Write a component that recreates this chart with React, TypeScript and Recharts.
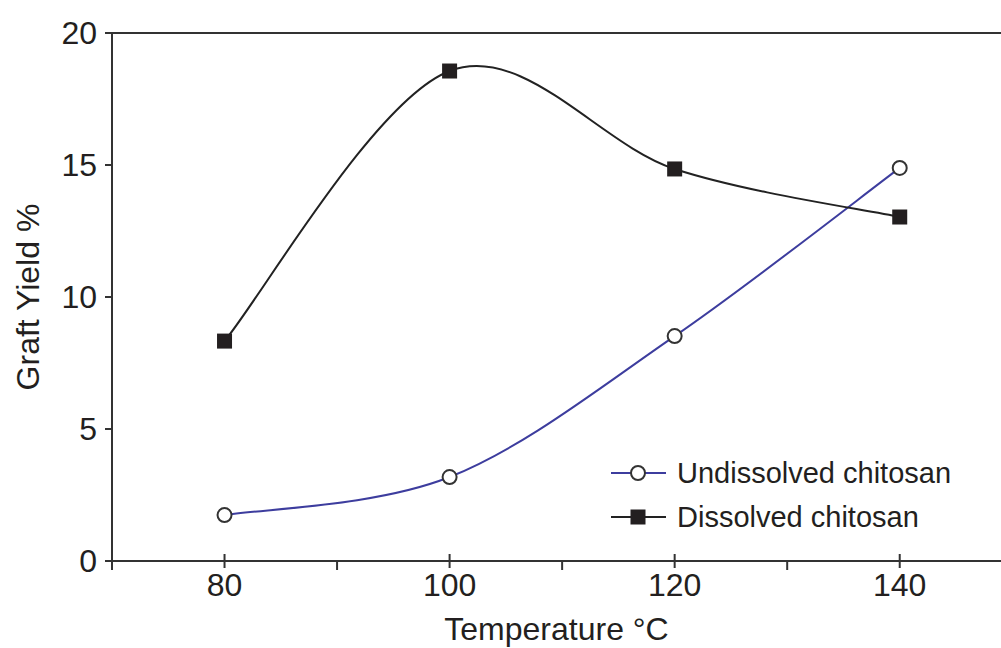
import {
  LineChart,
  Line,
  XAxis,
  YAxis,
  ReferenceLine,
  Legend,
} from "recharts";

const temperatures = [80, 100, 120, 140];
const undissolvedYield = [1.74, 3.18, 8.52, 14.89];
const dissolvedYield = [8.33, 18.56, 14.85, 13.03];

const xTicks = [70, 80, 90, 100, 110, 120, 130, 140];
const xMajorTicks = [80, 100, 120, 140];
const yTicks = [0, 5, 10, 15, 20];

const legendOrder = ["undissolved", "dissolved"];

const FONT = '"Liberation Sans", Arial, sans-serif';
const INK = "#231f20";
const AXIS = "#333333";
const BLUE = "#3d3d9e";
const BLACK = "#222222";

const data = temperatures.map((t, i) => ({
  temp: t,
  undissolved: undissolvedYield[i],
  dissolved: dissolvedYield[i],
}));

// Catmull-Rom style smoothing (like a spreadsheet "smoothed line")
// eslint-disable-next-line @typescript-eslint/no-explicit-any
function smoothCurve(context: any) {
  let pts: [number, number][] = [];
  return {
    areaStart() {},
    areaEnd() {},
    lineStart() {
      pts = [];
    },
    point(x: number, y: number) {
      pts.push([+x, +y]);
    },
    lineEnd() {
      if (!pts.length) return;
      context.moveTo(pts[0][0], pts[0][1]);
      for (let i = 0; i < pts.length - 1; i++) {
        const p0 = pts[i - 1] ?? pts[i];
        const p1 = pts[i];
        const p2 = pts[i + 1];
        const p3 = pts[i + 2] ?? p2;
        context.bezierCurveTo(
          p1[0] + (p2[0] - p0[0]) / 6,
          p1[1] + (p2[1] - p0[1]) / 6,
          p2[0] - (p3[0] - p1[0]) / 6,
          p2[1] - (p3[1] - p1[1]) / 6,
          p2[0],
          p2[1]
        );
      }
    },
  };
}

// eslint-disable-next-line @typescript-eslint/no-explicit-any
function XTick({ x, y, payload }: any) {
  const major = xMajorTicks.includes(payload.value);
  return (
    <g>
      <line
        x1={x}
        x2={x}
        y1={major ? y - 7 : y}
        y2={major ? y + 7 : y + 9}
        stroke={AXIS}
        strokeWidth={2}
      />
      {major && (
        <text x={x} y={y + 35} textAnchor="middle" fontSize={32} fill={INK} fontFamily={FONT}>
          {payload.value}
        </text>
      )}
    </g>
  );
}

function CircleMarker({ cx, cy }: { cx: number; cy: number }) {
  return <circle cx={cx} cy={cy} r={7} fill="#fff" stroke={AXIS} strokeWidth={2} />;
}

function SquareMarker({ cx, cy }: { cx: number; cy: number }) {
  return <rect x={cx - 7.5} y={cy - 7.5} width={15} height={15} fill={INK} />;
}

// eslint-disable-next-line @typescript-eslint/no-explicit-any
function LegendBox({ payload }: any) {
  if (!payload?.length) return null;
  const items = [...payload].sort(
    // eslint-disable-next-line @typescript-eslint/no-explicit-any
    (a: any, b: any) => legendOrder.indexOf(a.dataKey) - legendOrder.indexOf(b.dataKey)
  );
  return (
    <svg width={380} height={90}>
      {/* eslint-disable-next-line @typescript-eslint/no-explicit-any */}
      {items.map((entry: any, i: number) => {
        const cy = 18 + i * 44;
        return (
          <g key={entry.value}>
            <line x1={6} x2={61} y1={cy} y2={cy} stroke={entry.color} strokeWidth={2} />
            {entry.dataKey === "undissolved" ? (
              <CircleMarker cx={33} cy={cy} />
            ) : (
              <SquareMarker cx={33} cy={cy} />
            )}
            <text x={72} y={cy} dominantBaseline="central" fontSize={29} fill={INK} fontFamily={FONT}>
              {entry.value}
            </text>
          </g>
        );
      })}
    </svg>
  );
}

export default function App() {
  return (
    <div style={{ position: "absolute", left: 0, top: 0, background: "#fff" }}>
      <LineChart
        width={1001}
        height={648}
        data={data}
        margin={{ top: 33, right: 0, bottom: 0, left: 0 }}
      >
        <XAxis
          type="number"
          dataKey="temp"
          domain={[70, 149]}
          ticks={xTicks}
          interval={0}
          height={87}
          tickSize={0}
          tickMargin={0}
          tickLine={false}
          tick={<XTick />}
          axisLine={{ stroke: AXIS, strokeWidth: 2 }}
          label={{
            // eslint-disable-next-line @typescript-eslint/no-explicit-any
            content: ({ viewBox }: any) => (
              <text
                x={viewBox.x + viewBox.width / 2}
                y={viewBox.y + 79}
                textAnchor="middle"
                fontSize={32}
                fill={INK}
                fontFamily={FONT}
              >
                Temperature °C
              </text>
            ),
          }}
        />
        <YAxis
          type="number"
          domain={[0, 20]}
          ticks={yTicks}
          width={112}
          tickSize={7}
          tickMargin={8}
          tickLine={{ stroke: AXIS, strokeWidth: 2 }}
          axisLine={{ stroke: AXIS, strokeWidth: 2 }}
          tick={{ fontSize: 32, fill: INK, fontFamily: FONT }}
          label={{
            // eslint-disable-next-line @typescript-eslint/no-explicit-any
            content: ({ viewBox }: any) => {
              const cx = viewBox.x + 28;
              const cy = viewBox.y + viewBox.height / 2;
              return (
                <text
                  transform={`translate(${cx},${cy}) rotate(-90)`}
                  textAnchor="middle"
                  dominantBaseline="central"
                  fontSize={32}
                  fill={INK}
                  fontFamily={FONT}
                >
                  Graft Yield %
                </text>
              );
            },
          }}
        />
        <ReferenceLine y={20} stroke={AXIS} strokeWidth={2} />
        <Line
          // eslint-disable-next-line @typescript-eslint/no-explicit-any
          type={smoothCurve as any}
          dataKey="undissolved"
          name="Undissolved chitosan"
          stroke={BLUE}
          strokeWidth={2}
          // eslint-disable-next-line @typescript-eslint/no-explicit-any
          dot={(p: any) => <CircleMarker key={`u${p.index}`} cx={p.cx} cy={p.cy} />}
          activeDot={false}
          isAnimationActive={false}
        />
        <Line
          // eslint-disable-next-line @typescript-eslint/no-explicit-any
          type={smoothCurve as any}
          dataKey="dissolved"
          name="Dissolved chitosan"
          stroke={BLACK}
          strokeWidth={2}
          // eslint-disable-next-line @typescript-eslint/no-explicit-any
          dot={(p: any) => <SquareMarker key={`d${p.index}`} cx={p.cx} cy={p.cy} />}
          activeDot={false}
          isAnimationActive={false}
        />
        <Legend
          layout="vertical"
          align="center"
          verticalAlign="middle"
          content={<LegendBox />}
          wrapperStyle={{ left: 605, top: 455, width: 380 }}
        />
      </LineChart>
    </div>
  );
}
